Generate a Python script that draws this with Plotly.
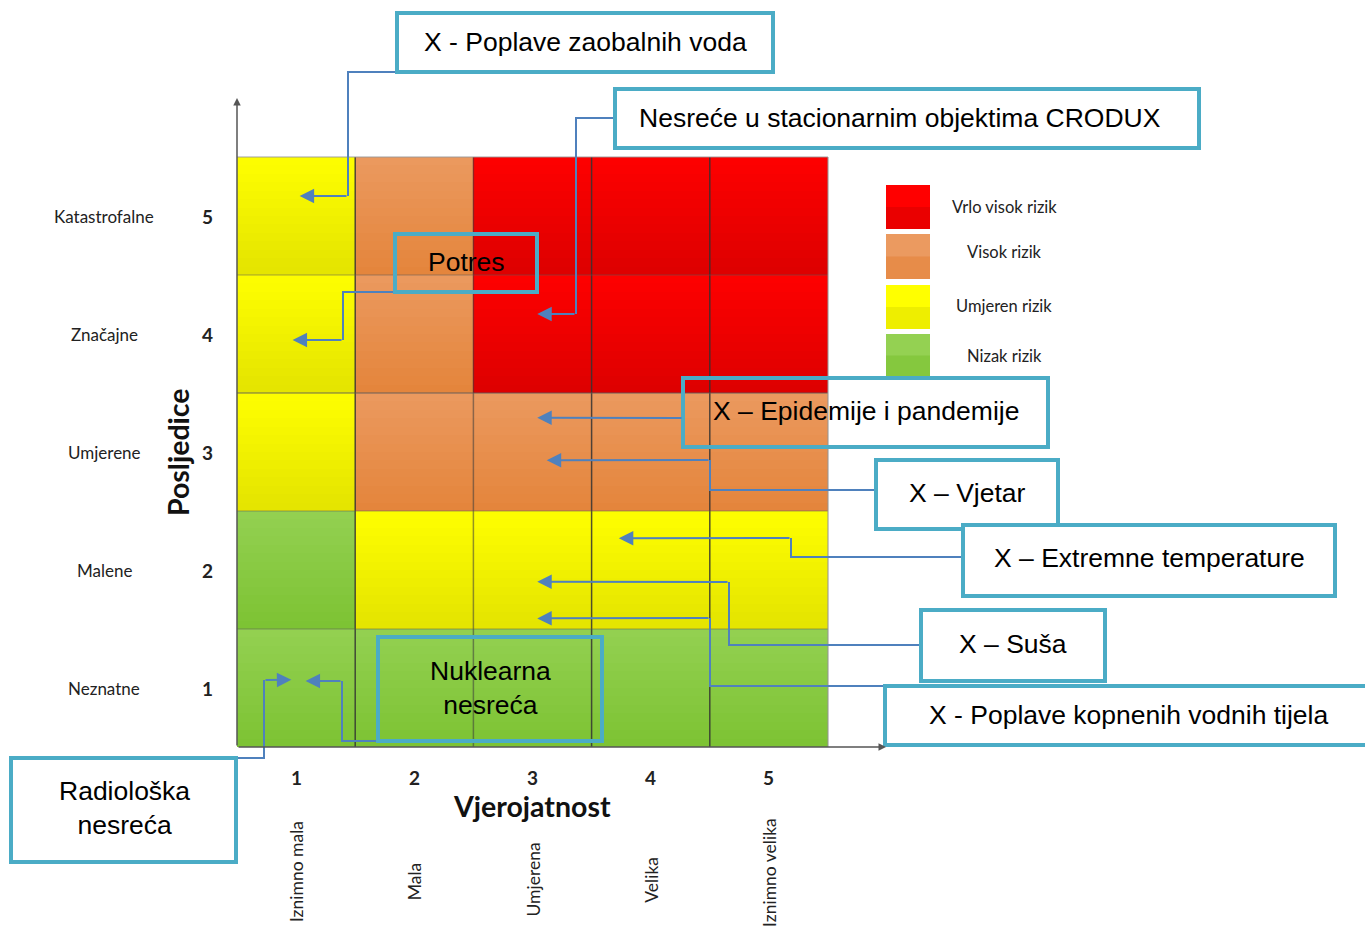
import plotly.graph_objects as go

# ---------------- data ----------------
PROB_TICKS = [1, 2, 3, 4, 5]
PROB_LABELS = ["Iznimno mala", "Mala", "Umjerena", "Velika", "Iznimno velika"]
CONS_TICKS = [1, 2, 3, 4, 5]
CONS_LABELS = ["Neznatne", "Malene", "Umjerene", "Značajne", "Katastrofalne"]
# risk level per cell (rows: consequence 1..5, cols: probability 1..5)
# 1 = Nizak, 2 = Umjeren, 3 = Visok, 4 = Vrlo visok
RISK = [
    [1, 1, 1, 1, 1],
    [1, 2, 2, 2, 2],
    [2, 3, 3, 3, 3],
    [2, 3, 4, 4, 4],
    [2, 3, 4, 4, 4],
]
LEVEL_NAMES = ["Nizak rizik", "Umjeren rizik", "Visok rizik", "Vrlo visok rizik"]
LEVEL_DARK = ["#7CC232", "#E3E300", "#E4843A", "#DC0000"]
LEVEL_LIGHT = ["#94D152", "#FFFF00", "#EB9A60", "#FF0000"]

HAZARD_NAMES = [
    "X - Poplave zaobalnih voda",
    "Nesreće u stacionarnim objektima CRODUX",
    "Potres",
    "X – Epidemije i pandemije",
    "X – Vjetar",
    "X – Extremne temperature",
    "X – Suša",
    "X - Poplave kopnenih vodnih tijela",
    "Nuklearna<br>nesreća",
    "Radiološka<br>nesreća",
]
# position of each hazard marker inside the matrix (probability, consequence)
HAZARD_PROB = [1.03, 3.04, 0.97, 3.04, 3.12, 3.73, 3.04, 3.04, 1.08, 0.96]
HAZARD_CONS = [5.17, 4.17, 3.95, 3.29, 2.93, 2.27, 1.90, 1.59, 1.06, 1.07]

# ---------------- layout helpers (pixel -> axis units) ----------------
W, H = 1365, 932
GX0, GY0 = 237, 747          # pixel of (0.5, 0.5)
SX, SY = 118.2, 118.0        # pixels per unit


def X(px):
    return 0.5 + (px - GX0) / SX


def Y(py):
    return 0.5 + (GY0 - py) / SY


# callout boxes: (x0, y0, x1, y1, text centre x, text centre y, filled)
BOXES = [
    (397, 13, 773, 72, 585, 42, True),
    (615, 89, 1199, 148, 900, 118, True),
    (395, 234, 537, 292, 466, 262, False),
    (683, 378, 1048, 447, 866, 411, False),
    (876, 460, 1058, 529, 967, 493, True),
    (963, 525, 1335, 596, 1149, 558, True),
    (921, 610, 1105, 681, 1013, 644, True),
    (885, 686, 1372, 745, 1128, 715, True),
    (378, 637, 602, 741, 490, 688, False),
    (11, 758, 236, 862, 124, 808, True),
]
# connector polylines from box to arrow tail (pixels)
CONNECTORS = [
    [(397, 72), (348, 72), (348, 196)],
    [(615, 118), (576, 118), (576, 314)],
    [(395, 292), (343, 292), (343, 340)],
    [(683, 418)],
    [(876, 490), (710, 490), (710, 460)],
    [(963, 557), (791, 557), (791, 538)],
    [(921, 645), (729, 645), (729, 582)],
    [(885, 686), (710, 686), (710, 618)],
    [(378, 741), (342, 741), (342, 681)],
    [(236, 758), (264, 758), (264, 680)],
]

BOX_COLOR = "#4BACC6"
LINE_COLOR = "#4F81BD"
BOX_FONT = "Liberation Sans, Arial, sans-serif"
LBL_FONT = "Lato, Open Sans, sans-serif"

# ---------------- heatmap with vertical shading per cell ----------------
N = 14
ys, zs = [], []
for r, row in enumerate(RISK):
    for k in range(N):
        f = (k + 0.5) / N
        ys.append(CONS_TICKS[r] - 0.5 + f)
        zs.append([lvl - 1 + 0.02 + 0.96 * f for lvl in row])

colorscale = []
for i in range(4):
    colorscale.append([i / 4 + (0.0001 if i else 0), LEVEL_DARK[i]])
    colorscale.append([(i + 1) / 4 - (0.0001 if i < 3 else 0), LEVEL_LIGHT[i]])

fig = go.Figure(go.Heatmap(
    x=PROB_TICKS, y=ys, z=zs, zmin=0, zmax=4,
    colorscale=colorscale, showscale=False, hoverinfo="skip",
))

shapes = []
# grid lines
for xb in [1.5, 2.5, 3.5, 4.5]:
    shapes.append(dict(type="line", xref="x", yref="y", x0=xb, x1=xb, y0=0.5, y1=5.5,
                       line=dict(color="rgba(60,60,60,0.55)" if xb == 2.5 else "rgba(50,50,50,0.85)",
                                 width=1.5)))
for yb in [1.5, 2.5, 3.5, 4.5]:
    shapes.append(dict(type="line", xref="x", yref="y", x0=0.5, x1=5.5, y0=yb, y1=yb,
                       line=dict(color="rgba(90,90,90,0.35)" if yb != 3.5 else "rgba(90,90,90,0.6)",
                                 width=1.5)))
shapes.append(dict(type="line", xref="x", yref="y", x0=5.5, x1=5.5, y0=0.5, y1=5.5,
                   line=dict(color="rgba(150,150,150,0.7)", width=1.5)))
shapes.append(dict(type="line", xref="x", yref="y", x0=0.5, x1=5.5, y0=5.5, y1=5.5,
                   line=dict(color="rgba(150,150,150,0.6)", width=1.5)))

# legend swatches
LEG_Y = [(185, 229), (234, 279), (285, 329), (334, 377)]
for i, (t, b) in enumerate(LEG_Y):
    lvl = 3 - i
    shapes.append(dict(type="rect", xref="x", yref="y", x0=X(886), x1=X(930), y0=Y(b), y1=Y(t),
                       fillcolor=LEVEL_LIGHT[lvl], line=dict(width=0), layer="above"))
    shapes.append(dict(type="rect", xref="x", yref="y", x0=X(886), x1=X(930),
                       y0=Y(b), y1=Y((t + b) / 2),
                       fillcolor=LEVEL_DARK[lvl], opacity=0.6, line=dict(width=0), layer="above"))

# connectors
for i, pts in enumerate(CONNECTORS):
    if len(pts) > 1:
        path = "M " + " L ".join(f"{X(px)},{Y(py)}" for px, py in pts)
        shapes.append(dict(type="path", xref="x", yref="y", path=path,
                           line=dict(color=LINE_COLOR, width=2), layer="above"))

# boxes
for (x0, y0, x1, y1, cx, cy, filled) in BOXES:
    shapes.append(dict(type="rect", xref="x", yref="y", x0=X(x0), x1=X(x1), y0=Y(y1), y1=Y(y0),
                       fillcolor="white" if filled else "rgba(0,0,0,0)",
                       line=dict(color=BOX_COLOR, width=4), layer="above"))

annotations = []
# arrows to hazard positions
for i, pts in enumerate(CONNECTORS):
    tx, ty = pts[-1]
    annotations.append(dict(x=HAZARD_PROB[i], y=HAZARD_CONS[i], xref="x", yref="y",
                            ax=X(tx), ay=Y(ty), axref="x", ayref="y", text="",
                            showarrow=True, arrowhead=2, arrowsize=1.45, arrowwidth=2,
                            arrowcolor=LINE_COLOR, standoff=0))
# box texts
for i, (x0, y0, x1, y1, cx, cy, filled) in enumerate(BOXES):
    annotations.append(dict(x=X(cx), y=Y(cy), xref="x", yref="y", text=HAZARD_NAMES[i],
                            showarrow=False, font=dict(family=BOX_FONT, size=26.5, color="black")))

# axis arrows
annotations.append(dict(x=0.5, y=Y(98), ax=0.5, ay=0.5, xref="x", yref="y", axref="x", ayref="y",
                        text="", showarrow=True, arrowhead=2, arrowsize=1, arrowwidth=1.5,
                        arrowcolor="#555555", standoff=0))
annotations.append(dict(x=X(886), y=0.5, ax=0.5, ay=0.5, xref="x", yref="y", axref="x", ayref="y",
                        text="", showarrow=True, arrowhead=2, arrowsize=1, arrowwidth=1.5,
                        arrowcolor="#555555", standoff=0))

# tick labels
for v, name in zip(CONS_TICKS, CONS_LABELS):
    annotations.append(dict(x=X(104), y=v, xref="x", yref="y", text=name, showarrow=False,
                            font=dict(family=LBL_FONT, size=17, color="#222222")))
    annotations.append(dict(x=X(207), y=v, xref="x", yref="y", text=f"<b>{v}</b>", showarrow=False,
                            font=dict(family=LBL_FONT, size=19, color="#222222")))
LABEL_CY = [872, 881, 880, 880, 872]
for v, name, cy in zip(PROB_TICKS, PROB_LABELS, LABEL_CY):
    annotations.append(dict(x=v, y=Y(777), xref="x", yref="y", text=f"<b>{v}</b>", showarrow=False,
                            font=dict(family=LBL_FONT, size=19, color="#222222")))
    annotations.append(dict(x=v, y=Y(cy), xref="x", yref="y", text=name, showarrow=False,
                            textangle=-90, font=dict(family=LBL_FONT, size=17.5, color="#222222")))

annotations.append(dict(x=X(178), y=Y(452), xref="x", yref="y", text="<b>Posljedice</b>",
                        showarrow=False, textangle=-90,
                        font=dict(family=LBL_FONT, size=28.5, color="#111111")))
annotations.append(dict(x=X(532), y=Y(806), xref="x", yref="y", text="<b>Vjerojatnost</b>",
                        showarrow=False, font=dict(family=LBL_FONT, size=28.5, color="#111111")))

# legend labels
LEG_TEXT_Y = [207, 252, 306, 356]
for i, ty in enumerate(LEG_TEXT_Y):
    annotations.append(dict(x=X(1004), y=Y(ty), xref="x", yref="y", text=LEVEL_NAMES[3 - i],
                            showarrow=False, font=dict(family=LBL_FONT, size=16.5, color="#222222")))

fig.update_layout(
    width=W, height=H,
    margin=dict(l=0, r=0, t=0, b=0),
    paper_bgcolor="white", plot_bgcolor="white",
    xaxis=dict(range=[X(0), X(W)], visible=False, fixedrange=True),
    yaxis=dict(range=[Y(H), Y(0)], visible=False, fixedrange=True),
    shapes=shapes, annotations=annotations, showlegend=False,
)

fig.write_html("out.html", config={"displayModeBar": False},
               post_script="document.body.style.margin='0';document.body.style.overflow='hidden';")
